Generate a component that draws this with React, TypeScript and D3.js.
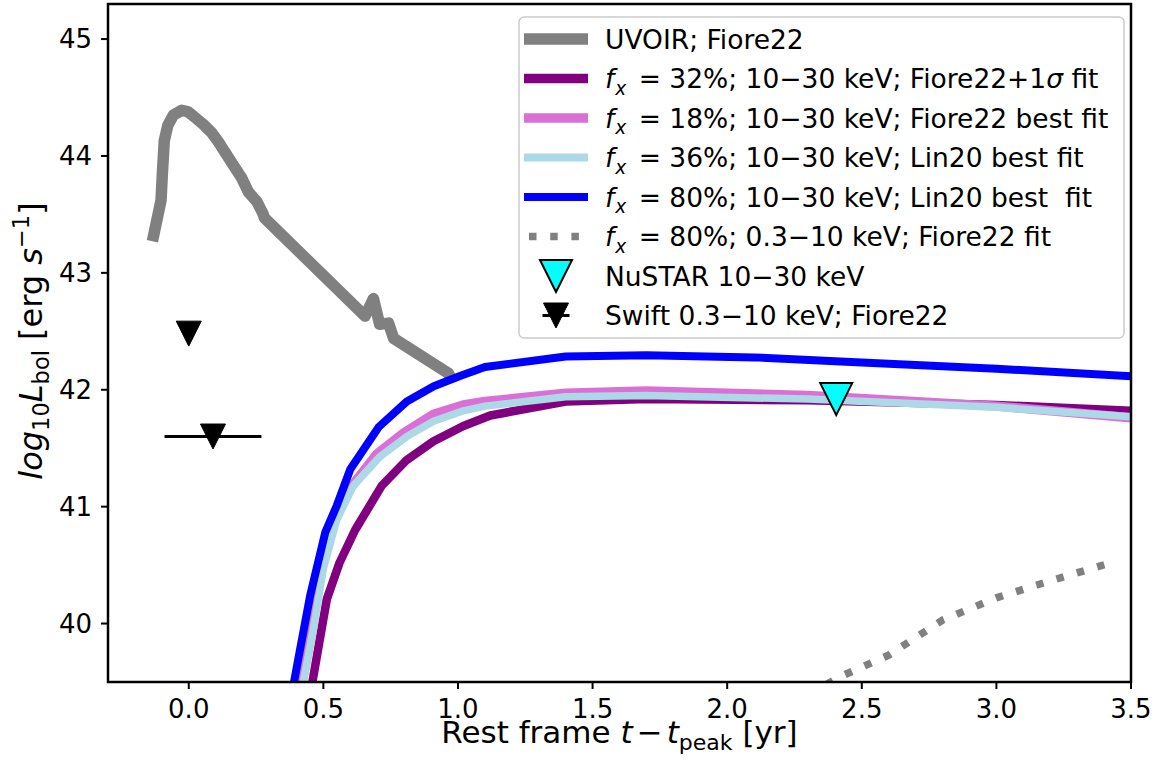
import React from "react";
import * as d3 from "d3";

type P = [number, number];

// UVOIR bolometric light curve (Fiore22)
const uvoir: P[] = [
  [-0.135, 43.27], [-0.103, 43.62], [-0.098, 43.85], [-0.091, 44.13], [-0.078, 44.26],
  [-0.057, 44.35], [-0.026, 44.39], [-0.004, 44.38], [0.023, 44.33], [0.054, 44.27],
  [0.085, 44.2], [0.11, 44.12], [0.135, 44.03], [0.166, 43.92], [0.197, 43.81],
  [0.222, 43.69], [0.253, 43.61], [0.275, 43.51], [0.281, 43.47], [0.655, 42.63],
  [0.686, 42.78], [0.709, 42.56], [0.742, 42.57], [0.761, 42.44], [0.965, 42.14],
  [0.981, 42.07],
];

// f_x = 32%; 10-30 keV; Fiore22+1sigma fit
const fx32: P[] = [
  [0.445, 39.3], [0.46, 39.51], [0.513, 40.21], [0.56, 40.52], [0.618, 40.8],
  [0.717, 41.18], [0.81, 41.4], [0.909, 41.56], [1.02, 41.69], [1.12, 41.78],
  [1.4, 41.9], [1.7, 41.92], [2.3, 41.91], [3.0, 41.87], [3.5, 41.82],
];

// f_x = 18%; 10-30 keV; Fiore22 best fit
const fx18: P[] = [
  [0.405, 39.3], [0.46, 39.98], [0.49, 40.45], [0.513, 40.75], [0.562, 41.01],
  [0.6, 41.16], [0.699, 41.45], [0.798, 41.63], [0.909, 41.79], [1.02, 41.87],
  [1.1, 41.9], [1.4, 41.97], [1.7, 41.99], [2.3, 41.95], [3.0, 41.86], [3.5, 41.76],
];

// f_x = 36%; 10-30 keV; Lin20 best fit
const fx36: P[] = [
  [0.41, 39.3], [0.426, 39.51], [0.463, 39.96], [0.5, 40.47], [0.55, 40.89],
  [0.612, 41.18], [0.711, 41.43], [0.81, 41.6], [0.909, 41.73], [1.02, 41.82],
  [1.1, 41.86], [1.4, 41.94], [1.7, 41.95], [2.3, 41.92], [3.0, 41.85], [3.5, 41.77],
];

// f_x = 80%; 10-30 keV; Lin20 best fit
const fx80: P[] = [
  [0.375, 39.3], [0.407, 39.7], [0.451, 40.24], [0.507, 40.78], [0.55, 41.01],
  [0.6, 41.32], [0.705, 41.68], [0.81, 41.9], [0.91, 42.03], [1.01, 42.12],
  [1.1, 42.195], [1.4, 42.285], [1.7, 42.295], [2.1, 42.277], [2.46, 42.238],
  [3.0, 42.18], [3.5, 42.115],
];

// f_x = 80%; 0.3-10 keV; Fiore22 fit
const fx80soft: P[] = [
  [2.3, 39.39], [2.415, 39.54], [2.6, 39.73], [2.8, 40.03], [3.0, 40.22],
  [3.2, 40.365], [3.44, 40.53],
];

const nustar: P[] = [[2.405, 41.92]];
const swift: P[] = [[0.0, 42.48], [0.09, 41.6]];
const swiftXerr: number[] = [0, 0.18];

const xTicks = [0, 0.5, 1.0, 1.5, 2.0, 2.5, 3.0, 3.5];
const yTicks = [40, 41, 42, 43, 44, 45];

const FONT = "'DejaVu Sans', sans-serif";
const MINUS = "\u2212";

type Seg = { t: string; it?: boolean; sub?: boolean; dx?: number };
const fxLabel = (rest: Seg[]): Seg[] => [
  { t: "f", it: true },
  { t: "x", it: true, sub: true, dx: 1 },
  ...rest,
];

const legendItems: { kind: string; color: string; width: number; label: Seg[] }[] = [
  { kind: "line", color: "#808080", width: 11.5, label: [{ t: "UVOIR; Fiore22" }] },
  {
    kind: "line", color: "#800080", width: 9.5,
    label: fxLabel([{ t: ` = 32%; 10${MINUS}30 keV; Fiore22+1`, dx: 4 }, { t: "σ", it: true }, { t: " fit" }]),
  },
  { kind: "line", color: "#da70d6", width: 9.5, label: fxLabel([{ t: ` = 18%; 10${MINUS}30 keV; Fiore22 best fit`, dx: 4 }]) },
  { kind: "line", color: "#add8e6", width: 8, label: fxLabel([{ t: ` = 36%; 10${MINUS}30 keV; Lin20 best fit`, dx: 4 }]) },
  { kind: "line", color: "#0000ff", width: 8, label: fxLabel([{ t: ` = 80%; 10${MINUS}30 keV; Lin20 best\u00a0 fit`, dx: 4 }]) },
  { kind: "dot", color: "#808080", width: 7.5, label: fxLabel([{ t: ` = 80%; 0.3${MINUS}10 keV; Fiore22 fit`, dx: 4 }]) },
  { kind: "nustar", color: "#00ffff", width: 0, label: [{ t: `NuSTAR 10${MINUS}30 keV` }] },
  { kind: "swift", color: "#000000", width: 0, label: [{ t: `Swift 0.3${MINUS}10 keV; Fiore22` }] },
];

function tri(cx: number, cy: number, s: number) {
  const h = s / 2;
  return `M${cx - h},${cy - h}L${cx + h},${cy - h}L${cx},${cy + h}Z`;
}

function RichText({ segs, x, y, size }: { segs: Seg[]; x: number; y: number; size: number }) {
  const out: React.ReactNode[] = [];
  let shifted = 0;
  segs.forEach((s, i) => {
    const target = s.sub ? size * 0.26 : 0;
    const dy = target - shifted;
    shifted = target;
    out.push(
      <tspan
        key={i}
        dx={s.dx}
        dy={dy !== 0 ? dy : undefined}
        fontStyle={s.it ? "italic" : "normal"}
        fontSize={s.sub ? size * 0.7 : size}
      >
        {s.t}
      </tspan>
    );
  });
  return (
    <text x={x} y={y} fontFamily={FONT} fontSize={size} fill="#000">
      {out}
    </text>
  );
}

export default function App() {
  const L = 108, R = 1131, T = 4, B = 682;
  const x = d3.scaleLinear().domain([-0.3, 3.5]).range([L, R]);
  const y = d3.scaleLinear().domain([39.5, 45.3]).range([B, T]);
  const line = d3.line<P>().x((d) => x(d[0])).y((d) => y(d[1]));

  const series = [
    { d: uvoir, c: "#808080", w: 11.5 },
    { d: fx32, c: "#800080", w: 8.5 },
    { d: fx18, c: "#da70d6", w: 9.5 },
    { d: fx36, c: "#add8e6", w: 7.5 },
    { d: fx80, c: "#0000ff", w: 8 },
  ];

  const legX = 519, legY = 17, legW = 605, legH = 321;
  const rowY0 = 39, rowStep = 39.5;
  const hx0 = 524, hx1 = 588, hcx = 556;

  return (
    <div style={{ position: "absolute", left: 0, top: 0 }}>
      <svg width={1162} height={771} viewBox="0 0 1162 771" style={{ display: "block", background: "#fff" }}>
        <defs>
          <clipPath id="plotClip">
            <rect x={L} y={T} width={R - L} height={B - T} />
          </clipPath>
        </defs>
        <rect x={0} y={0} width={1162} height={771} fill="#fff" />
        <g clipPath="url(#plotClip)">
          {series.map((s, i) => (
            <path
              key={i}
              d={line(s.d) || ""}
              fill="none"
              stroke={s.c}
              strokeWidth={s.w}
              strokeLinejoin="round"
              strokeLinecap="butt"
            />
          ))}
          <path
            d={line(fx80soft) || ""}
            fill="none"
            stroke="#808080"
            strokeWidth={7.5}
            strokeDasharray="7.5 13.7"
            strokeLinecap="butt"
          />
          {nustar.map((p, i) => (
            <path key={i} d={tri(x(p[0]), y(p[1]), 32)} fill="#00ffff" stroke="#000" strokeWidth={2} />
          ))}
          {swift.map((p, i) => (
            <g key={i}>
              {swiftXerr[i] > 0 && (
                <line
                  x1={x(p[0] - swiftXerr[i])}
                  x2={x(p[0] + swiftXerr[i])}
                  y1={y(p[1])}
                  y2={y(p[1])}
                  stroke="#000"
                  strokeWidth={3}
                />
              )}
              <path d={tri(x(p[0]), y(p[1]), 25)} fill="#000" stroke="#000" strokeWidth={1} />
            </g>
          ))}
        </g>

        {/* axes frame */}
        <rect x={L} y={T} width={R - L} height={B - T} fill="none" stroke="#000" strokeWidth={2.5} />

        {/* x ticks */}
        {xTicks.map((t) => (
          <g key={t}>
            <line x1={x(t)} x2={x(t)} y1={B} y2={B + 7} stroke="#000" strokeWidth={2} />
            <text x={x(t)} y={718} textAnchor="middle" fontFamily={FONT} fontSize={26} fill="#000">
              {t.toFixed(1)}
            </text>
          </g>
        ))}
        {/* y ticks */}
        {yTicks.map((t) => (
          <g key={t}>
            <line x1={L - 7} x2={L} y1={y(t)} y2={y(t)} stroke="#000" strokeWidth={2} />
            <text x={92} y={y(t)} dy="0.36em" textAnchor="end" fontFamily={FONT} fontSize={26} fill="#000">
              {t}
            </text>
          </g>
        ))}

        {/* x label */}
        <text x={(L + R) / 2} y={743} textAnchor="middle" fontFamily={FONT} fontSize={31} fill="#000">
          <tspan>Rest frame </tspan>
          <tspan fontStyle="italic">t</tspan>
          <tspan dx={4}>{MINUS}</tspan>
          <tspan dx={4} fontStyle="italic">t</tspan>
          <tspan fontSize={22} dy={7}>peak</tspan>
          <tspan dy={-7}> [yr]</tspan>
        </text>

        {/* y label */}
        <g transform={`translate(42,${(T + B) / 2 - 2}) rotate(-90)`}>
          <text x={0} y={0} textAnchor="middle" fontFamily={FONT} fontSize={32} fill="#000">
            <tspan fontStyle="italic">log</tspan>
            <tspan fontSize={22.5} dy={7}>10</tspan>
            <tspan dy={-7} fontStyle="italic">L</tspan>
            <tspan fontSize={22.5} dy={7}>bol</tspan>
            <tspan dy={-7}> [erg </tspan>
            <tspan fontStyle="italic">s</tspan>
            <tspan fontSize={22.5} dy={-13}>{MINUS}1</tspan>
            <tspan dy={13}>]</tspan>
          </text>
        </g>

        {/* legend */}
        <rect x={legX} y={legY} width={legW} height={legH} rx={5} ry={5} fill="#fff" fillOpacity={0.8} stroke="#cccccc" strokeWidth={1.5} />
        {legendItems.map((it, i) => {
          const cy = rowY0 + i * rowStep;
          let handle: React.ReactNode = null;
          if (it.kind === "line") {
            handle = <line x1={hx0} x2={hx1} y1={cy} y2={cy} stroke={it.color} strokeWidth={it.width} />;
          } else if (it.kind === "dot") {
            handle = (
              <line x1={529} x2={hx1} y1={cy} y2={cy} stroke={it.color} strokeWidth={it.width} strokeDasharray="7.5 13.7" />
            );
          } else if (it.kind === "nustar") {
            handle = <path d={tri(hcx, cy, 32)} fill="#00ffff" stroke="#000" strokeWidth={2} />;
          } else {
            handle = (
              <g>
                <path d={tri(hcx, cy, 25)} fill="#000" stroke="#000" strokeWidth={1} />
                <line x1={hcx - 13.5} x2={hcx + 13.5} y1={cy} y2={cy} stroke="#000" strokeWidth={3} />
              </g>
            );
          }
          return (
            <g key={i}>
              {handle}
              <RichText segs={it.label} x={605} y={cy + 9.5} size={26.5} />
            </g>
          );
        })}
      </svg>
    </div>
  );
}
